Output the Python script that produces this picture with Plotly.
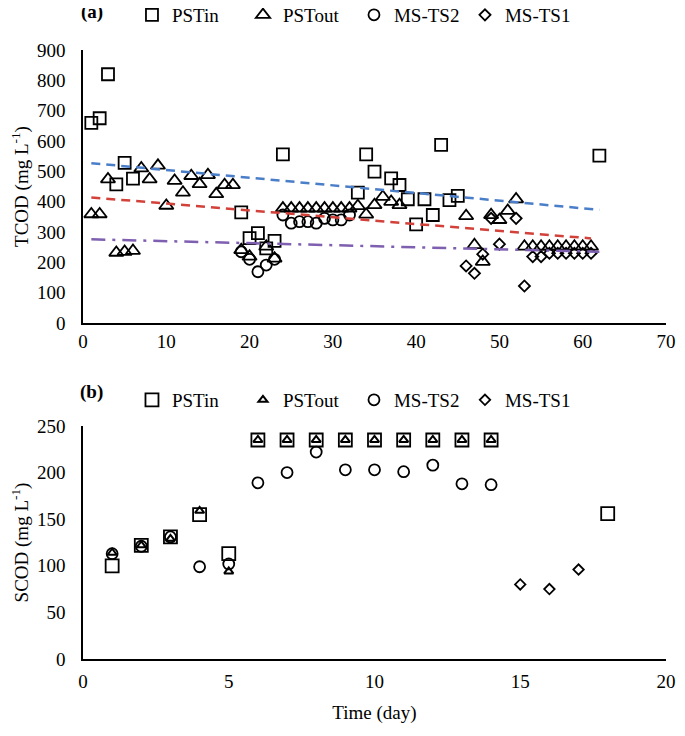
import plotly.graph_objects as go

# ---------------- (a) TCOD data ----------------
a_pstin_x = [1, 2, 3, 4, 5, 6, 19, 20, 21, 22, 23, 24, 33, 34, 35, 37, 38, 39, 40, 41, 42, 43, 44, 45, 62]
a_pstin_y = [660, 675, 820, 457, 528, 476, 365, 280, 296, 246, 271, 556, 430, 556, 499, 477, 455, 408, 325, 408, 356, 587, 405, 419, 552]

a_pstout_x = [1, 2, 3, 4, 5, 6, 7, 8, 9, 10, 11, 12, 13, 14, 15, 16, 17, 18, 19, 20, 22, 23,
              24, 25, 26, 27, 28, 29, 30, 31, 32, 33, 34, 35, 36, 37, 38,
              46, 47, 48, 49, 50, 51, 52, 53, 54, 55, 56, 57, 58, 59, 60, 61]
a_pstout_y = [359, 359, 474, 232, 235, 238, 510, 474, 519, 387, 469, 430, 485, 458, 488, 425, 455, 455, 241, 219, 252, 213,
              378, 378, 378, 378, 378, 378, 378, 378, 378, 386, 358, 389, 416, 400, 389,
              353, 257, 202, 356, 340, 370, 408, 252, 252, 252, 252, 252, 252, 252, 252, 252]

a_ms2_x = [19, 20, 21, 22, 23, 24, 25, 26, 27, 28, 29, 30, 31, 32]
a_ms2_y = [235, 210, 169, 191, 210, 356, 329, 334, 334, 329, 345, 340, 340, 356]

a_ms1_x = [46, 47, 48, 49, 50, 52, 53, 54, 55, 56, 57, 58, 59, 60, 61]
a_ms1_y = [188, 164, 227, 345, 260, 345, 122, 219, 219, 230, 230, 230, 230, 230, 230]

# linear trend lines (start/end)
trend_blue_x = [1, 62]
trend_blue_y = [527, 373]
trend_red_x = [1, 61]
trend_red_y = [414, 279]
trend_purple_x = [1, 62]
trend_purple_y = [276, 235]

# ---------------- (b) SCOD data ----------------
b_pstin_x = [1, 2, 3, 4, 5, 6, 7, 8, 9, 10, 11, 12, 13, 14, 18]
b_pstin_y = [100, 122, 131, 155, 113, 235, 235, 235, 235, 235, 235, 235, 235, 235, 156]

b_pstout_x = [1, 2, 3, 4, 5, 6, 7, 8, 9, 10, 11, 12, 13, 14]
b_pstout_y = [114, 122, 129, 159, 94, 235, 235, 235, 235, 235, 235, 235, 235, 235]

b_ms2_x = [1, 2, 3, 4, 5, 6, 7, 8, 9, 10, 11, 12, 13, 14]
b_ms2_y = [113, 121, 131, 99, 102, 189, 200, 222, 203, 203, 201, 208, 188, 187]

b_ms1_x = [15, 16, 17]
b_ms1_y = [80, 75, 96]

names = ["PSTin", "PSTout", "MS-TS2", "MS-TS1"]

FONT = "Liberation Serif"
FS = 19

fig = go.Figure()

def mk(symbol, size, width=1.8):
    return dict(symbol=symbol, size=size, color="black", line=dict(color="black", width=width))

# top panel
fig.add_trace(go.Scatter(x=a_pstin_x, y=a_pstin_y, mode="markers", name=names[0],
                         marker=mk("square-open", 12), xaxis="x", yaxis="y", legend="legend"))
fig.add_trace(go.Scatter(x=a_pstout_x, y=a_pstout_y, mode="markers", name=names[1],
                         marker=mk("triangle-up-open", 12.5), xaxis="x", yaxis="y", legend="legend"))
fig.add_trace(go.Scatter(x=a_ms2_x, y=a_ms2_y, mode="markers", name=names[2],
                         marker=mk("circle-open", 11), xaxis="x", yaxis="y", legend="legend"))
fig.add_trace(go.Scatter(x=a_ms1_x, y=a_ms1_y, mode="markers", name=names[3],
                         marker=mk("diamond-open", 8.5), xaxis="x", yaxis="y", legend="legend"))
fig.add_trace(go.Scatter(x=trend_blue_x, y=trend_blue_y, mode="lines", showlegend=False,
                         line=dict(color="#4A7EC8", width=2.5, dash="9px,6px"), xaxis="x", yaxis="y"))
fig.add_trace(go.Scatter(x=trend_red_x, y=trend_red_y, mode="lines", showlegend=False,
                         line=dict(color="#D2413A", width=2.5, dash="9px,6px"), xaxis="x", yaxis="y"))
fig.add_trace(go.Scatter(x=trend_purple_x, y=trend_purple_y, mode="lines", showlegend=False,
                         line=dict(color="#7E5FB0", width=2.5, dash="14px,7px,3px,7px"), xaxis="x", yaxis="y"))

# bottom panel
fig.add_trace(go.Scatter(x=b_pstin_x, y=b_pstin_y, mode="markers", name=names[0],
                         marker=mk("square-open", 13), xaxis="x2", yaxis="y2", legend="legend2"))
fig.add_trace(go.Scatter(x=b_pstout_x, y=b_pstout_y, mode="markers", name=names[1],
                         marker=mk("triangle-up-open", 8, 2), xaxis="x2", yaxis="y2", legend="legend2"))
fig.add_trace(go.Scatter(x=b_ms2_x, y=b_ms2_y, mode="markers", name=names[2],
                         marker=mk("circle-open", 11), xaxis="x2", yaxis="y2", legend="legend2"))
fig.add_trace(go.Scatter(x=b_ms1_x, y=b_ms1_y, mode="markers", name=names[3],
                         marker=mk("diamond-open", 8), xaxis="x2", yaxis="y2", legend="legend2"))

axis_common = dict(showline=True, linecolor="black", linewidth=1.5, showgrid=False,
                   zeroline=False, ticks="", tickfont=dict(family=FONT, size=FS, color="black"))

legend_common = dict(orientation="h", font=dict(family=FONT, size=FS, color="black"),
                     bgcolor="rgba(0,0,0,0)", xanchor="left", yanchor="middle",
                     itemwidth=30, entrywidth=66, tracegroupgap=0)

W, H = 669, 720

fig.update_layout(
    width=W, height=H,
    margin=dict(l=75, r=11, t=42, b=69, autoexpand=False),
    plot_bgcolor="white", paper_bgcolor="white",
    font=dict(family=FONT, size=FS, color="black"),
    xaxis=dict(domain=[0, 1], range=[0, 70], tickvals=[0, 10, 20, 30, 40, 50, 60, 70],
               anchor="y", **axis_common),
    yaxis=dict(domain=[0.5517, 1.0], range=[0, 900], tickvals=list(range(0, 901, 100)),
               anchor="x", ticklabelstandoff=12,
               title=dict(text="TCOD (mg L<sup>-1</sup>)", standoff=4,
                          font=dict(family=FONT, size=FS)), **axis_common),
    xaxis2=dict(domain=[0, 1], range=[0, 20], tickvals=[0, 5, 10, 15, 20], anchor="y2",
                ticklabelstandoff=4,
                title=dict(text="Time (day)", standoff=15, font=dict(family=FONT, size=FS)),
                **axis_common),
    yaxis2=dict(domain=[0.0, 0.3826], range=[0, 250], tickvals=[0, 50, 100, 150, 200, 250],
                anchor="x2", ticklabelstandoff=12,
                title=dict(text="SCOD (mg L<sup>-1</sup>)", standoff=4,
                           font=dict(family=FONT, size=FS)), **axis_common),
    legend=dict(x=0.084, y=1.0575, **legend_common),
    legend2=dict(x=0.084, y=0.4253, **legend_common),
    annotations=[
        dict(text="<b>(a)</b>", xref="paper", yref="paper", x=0.0154, y=1.062,
             xanchor="center", yanchor="middle",
             showarrow=False, font=dict(family=FONT, size=FS, color="black")),
        dict(text="<b>(b)</b>", xref="paper", yref="paper", x=0.0154, y=0.438,
             xanchor="center", yanchor="middle",
             showarrow=False, font=dict(family=FONT, size=FS, color="black")),
    ],
)

fig.write_html("out.html")
